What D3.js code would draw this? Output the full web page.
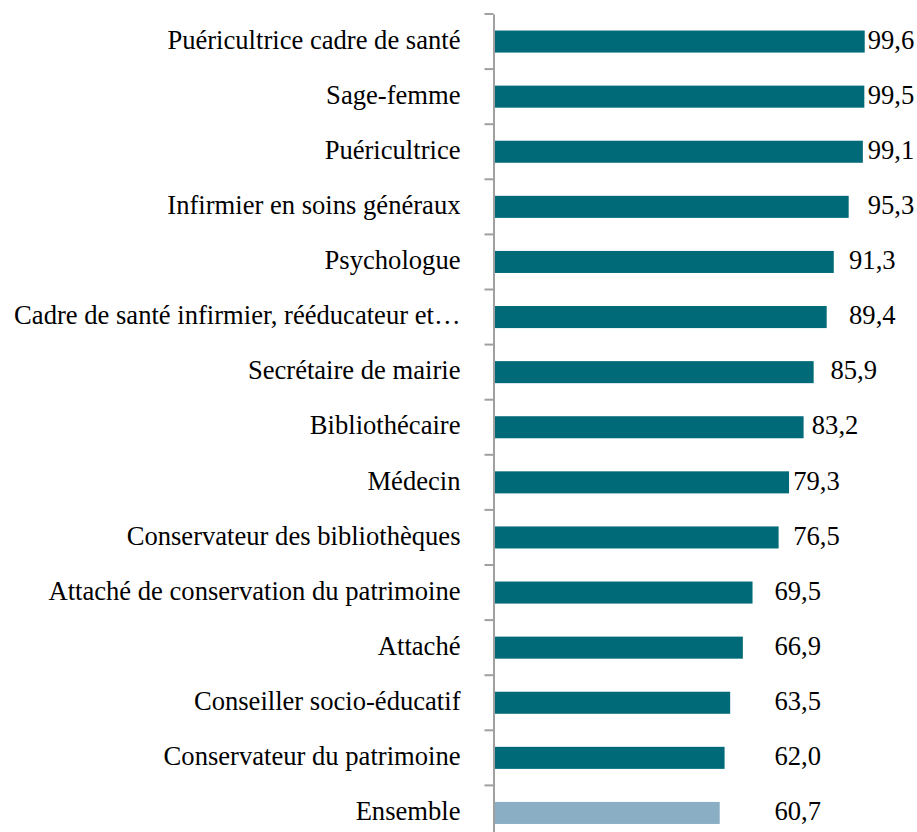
<!DOCTYPE html>
<html>
<head>
<meta charset="utf-8">
<script src="https://cdn.jsdelivr.net/npm/d3@7"></script>
<style>
  body { margin: 0; background: #fff; }
  svg text { font-family: "Liberation Serif", "Times New Roman", serif; fill: #000; }
</style>
</head>
<body>
<div id="grafico"></div>
<script>
const categorias = [
  "Puéricultrice cadre de santé",
  "Sage-femme",
  "Puéricultrice",
  "Infirmier en soins généraux",
  "Psychologue",
  "Cadre de santé infirmier, rééducateur et…",
  "Secrétaire de mairie",
  "Bibliothécaire",
  "Médecin",
  "Conservateur des bibliothèques",
  "Attaché de conservation du patrimoine",
  "Attaché",
  "Conseiller socio-éducatif",
  "Conservateur du patrimoine",
  "Ensemble"
];
const valeurs = [99.6, 99.5, 99.1, 95.3, 91.3, 89.4, 85.9, 83.2, 79.3, 76.5, 69.5, 66.9, 63.5, 62.0, 60.7];
const etiquettes = ["99,6", "99,5", "99,1", "95,3", "91,3", "89,4", "85,9", "83,2", "79,3", "76,5", "69,5", "66,9", "63,5", "62,0", "60,7"];

const width = 917;
const height = 832;
const x0 = 493.5;
const haut = 14;
const pas = 55.1;
const police = '"Liberation Serif", "Times New Roman", serif';
const taille = 26.6;

const svg = d3.select("#grafico")
  .append("svg")
  .attr("width", width)
  .attr("height", height);

const xScale = d3.scaleLinear().domain([0, 100]).range([x0, x0 + 372.7]);
const yScale = d3.scaleBand()
  .domain(categorias)
  .range([haut, haut + pas * categorias.length])
  .paddingInner(0.6)
  .paddingOuter(0.3);

const data = categorias.map((c, i) => ({ cat: c, val: valeurs[i], lab: etiquettes[i] }));

// barres
svg.selectAll(".barre")
  .data(data)
  .enter()
  .append("rect")
  .attr("class", "barre")
  .attr("x", xScale(0))
  .attr("y", (d) => yScale(d.cat))
  .attr("width", (d) => xScale(d.val) - xScale(0))
  .attr("height", yScale.bandwidth())
  .attr("fill", (d) => (d.cat === "Ensemble" ? "#8aafc5" : "#006a79"));

// axe vertical avec libelles
const axe = svg.append("g")
  .attr("transform", `translate(${x0},0)`)
  .call(d3.axisLeft(yScale).tickSize(0).tickPadding(33).tickSizeOuter(0));
axe.attr("font-family", police).attr("font-size", taille);
axe.select(".domain").attr("stroke", "#a0a0a0").attr("stroke-width", 2);
axe.selectAll("text").attr("dy", "0.27em");

// graduations entre les categories
const bords = categorias.map((c) => yScale(c) - yScale.step() * 0.3);
bords.push(haut + pas * categorias.length);
svg.selectAll(".grad")
  .data(bords)
  .enter()
  .append("line")
  .attr("x1", x0 - 9)
  .attr("x2", x0)
  .attr("y1", (d) => d)
  .attr("y2", (d) => d)
  .attr("stroke", "#a0a0a0")
  .attr("stroke-width", 2);

// etiquettes de valeur (positionnees par paliers de 5 comme dans l'original)
const palier = (v) => Math.min(100, Math.max(75, Math.ceil((v + 0.65) / 5) * 5));
svg.selectAll(".valeur")
  .data(data)
  .enter()
  .append("text")
  .attr("class", "valeur")
  .attr("x", (d) => xScale(palier(d.val)) + 1.5)
  .attr("y", (d) => yScale(d.cat) + yScale.bandwidth() / 2)
  .attr("dy", "0.27em")
  .attr("font-family", police)
  .attr("font-size", taille)
  .text((d) => d.lab);
</script>
</body>
</html>
